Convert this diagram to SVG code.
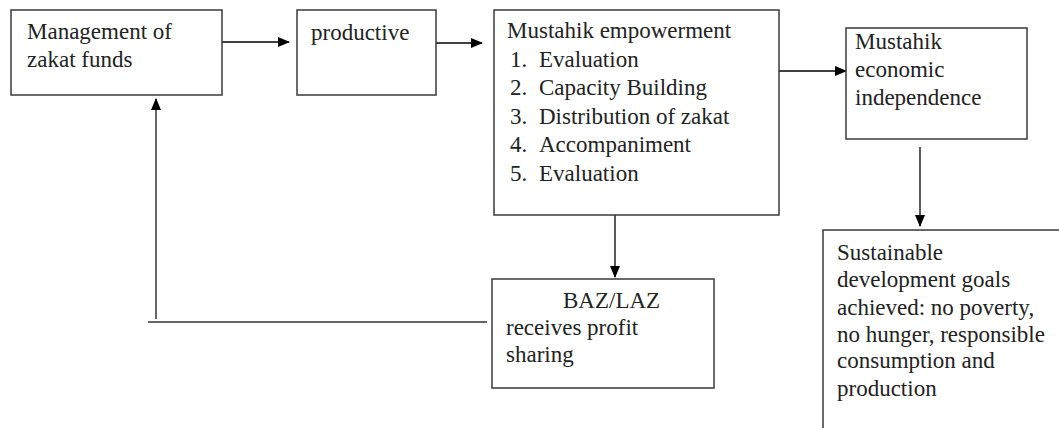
<svg xmlns="http://www.w3.org/2000/svg" width="1059" height="428" viewBox="0 0 1059 428">
<style>
.box{fill:#fff;stroke:#3a3a3a;stroke-width:1.5}
.t{font-family:"Liberation Serif",serif;font-size:23px;fill:#222}
.c{fill:none;stroke:#000;stroke-width:1.3}
.g{fill:none;stroke:#666;stroke-width:2}
</style>
<defs>
<marker id="ah" markerWidth="12" markerHeight="10" refX="11" refY="5" orient="auto" markerUnits="userSpaceOnUse">
<path d="M0,0 L12,5 L0,10 Z" fill="#000"/>
</marker>
</defs>
<rect width="1059" height="428" fill="#fff"/>
<g id="connectors">
<path class="c" d="M222,42 H289" marker-end="url(#ah)"/>
<path class="c" d="M436,43 H482" marker-end="url(#ah)"/>
<path class="c" d="M779,71 H846" marker-end="url(#ah)"/>
<path class="c" d="M920,147 V226" marker-end="url(#ah)"/>
<path class="c" d="M615,215 V277" marker-end="url(#ah)"/>
<path class="g" d="M487,322 H148"/>
<path class="g" d="M156,319 V99" marker-end="url(#ah)"/>
</g>
<g id="n1">
<rect class="box" x="11" y="10" width="211" height="85"/>
<text class="t" x="27" y="39">Management of</text>
<text class="t" x="27" y="67">zakat funds</text>
</g>
<g id="n2">
<rect class="box" x="297" y="10" width="139" height="85"/>
<text class="t" x="311" y="40">productive</text>
</g>
<g id="n3">
<rect class="box" x="494" y="10" width="285" height="205"/>
<text class="t" x="507" y="38">Mustahik empowerment</text>
<text class="t" x="510" y="66.5">1.</text><text class="t" x="539" y="66.5">Evaluation</text>
<text class="t" x="510" y="95">2.</text><text class="t" x="539" y="95">Capacity Building</text>
<text class="t" x="510" y="123.5">3.</text><text class="t" x="539" y="123.5">Distribution of zakat</text>
<text class="t" x="510" y="152">4.</text><text class="t" x="539" y="152">Accompaniment</text>
<text class="t" x="510" y="180.5">5.</text><text class="t" x="539" y="180.5">Evaluation</text>
</g>
<g id="n4">
<rect class="box" x="846" y="28" width="181" height="111"/>
<text class="t" x="855" y="49">Mustahik</text>
<text class="t" x="855" y="77">economic</text>
<text class="t" x="855" y="105">independence</text>
</g>
<g id="n5">
<rect class="box" x="492" y="279" width="222" height="109"/>
<text class="t" x="563" y="308">BAZ/LAZ</text>
<text class="t" x="506" y="335">receives profit</text>
<text class="t" x="506" y="362">sharing</text>
</g>
<g id="n6">
<path class="box" d="M823,440 V230 H1070"/>
<text class="t" x="837" y="260">Sustainable</text>
<text class="t" x="837" y="287">development goals</text>
<text class="t" x="837" y="315">achieved: no poverty,</text>
<text class="t" x="837" y="342">no hunger, responsible</text>
<text class="t" x="837" y="368">consumption and</text>
<text class="t" x="837" y="396">production</text>
</g>
</svg>
